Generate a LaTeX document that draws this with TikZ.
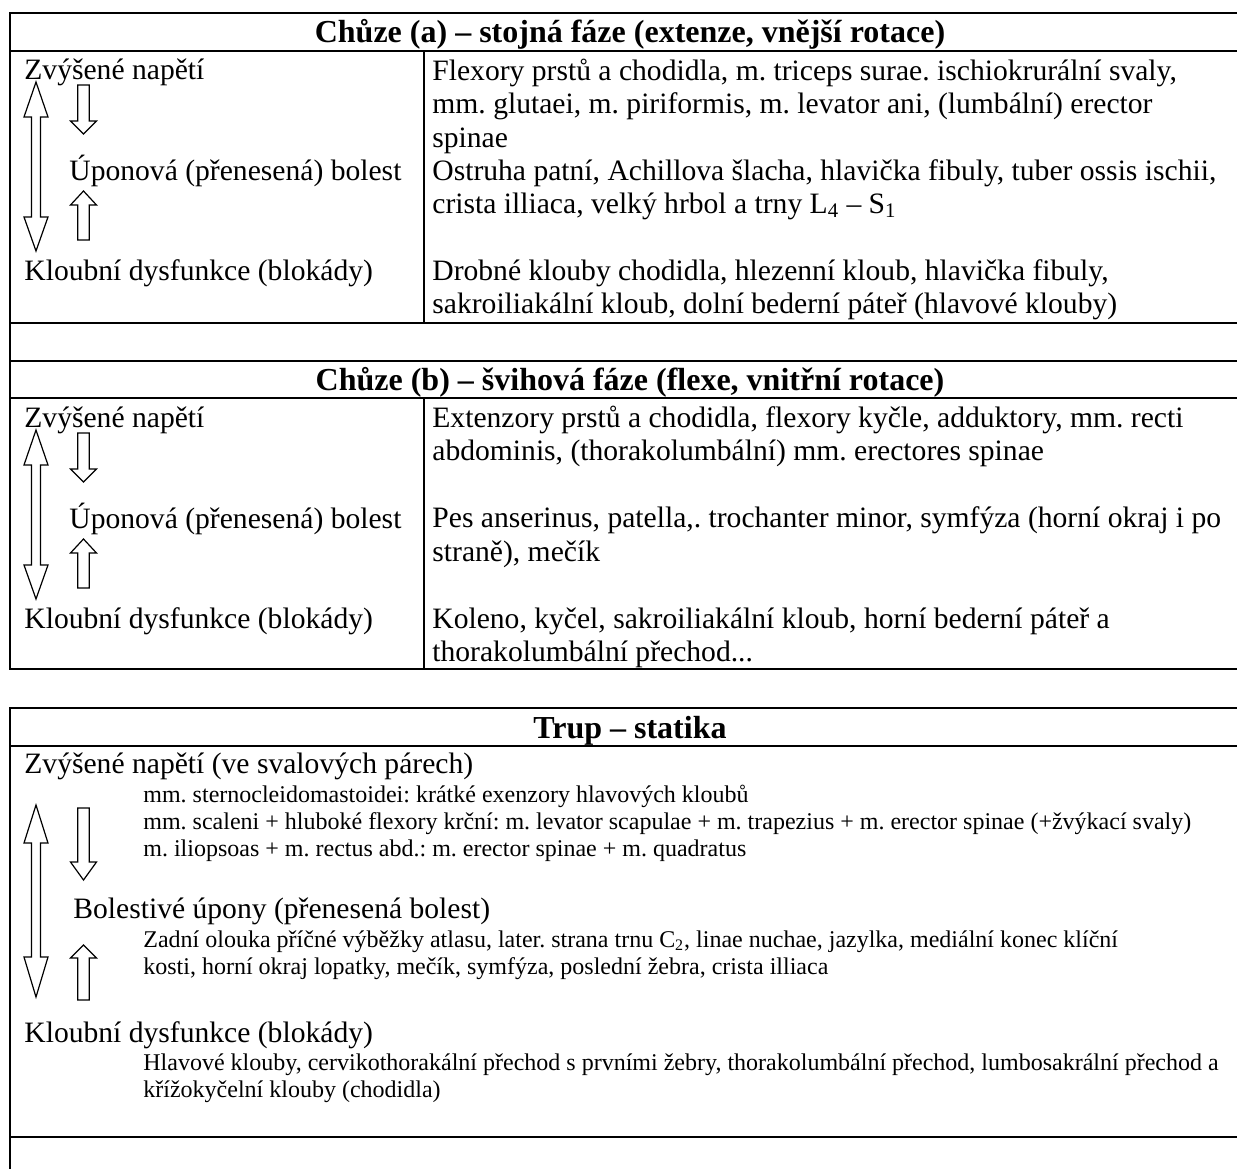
\documentclass[tikz,border=0pt]{standalone}
\usepackage{fontspec}
\setmainfont{Liberation Serif}
\frenchspacing
\newcommand\blockarrow[4]{% x, yend, yheadbase, ytip
  \draw[arr] (#1-5.8,#2) -- (#1+5.8,#2) -- (#1+5.8,#3) -- (#1+13,#3) -- (#1,#4)
    -- (#1-13,#3) -- (#1-5.8,#3) -- cycle;}
\newcommand\dblarrow[5]{% x, tip1, headbase1, headbase2, tip2
  \draw[arr] (#1,#2) -- (#1+12,#3) -- (#1+4.5,#3) -- (#1+4.5,#4) -- (#1+12,#4) -- (#1,#5)
    -- (#1-12,#4) -- (#1-4.5,#4) -- (#1-4.5,#3) -- (#1-12,#3) -- cycle;}
\begin{document}
\begin{tikzpicture}[x=0.5pt,y=-0.5pt,
  tx/.style={anchor=base west, inner sep=0, font=\frenchspacing\fontsize{14.8}{16}\selectfont},
  sm/.style={anchor=base west, inner sep=0, font=\frenchspacing\fontsize{12}{13}\selectfont},
  ttl/.style={anchor=base, inner sep=0, font=\frenchspacing\bfseries\fontsize{16}{18}\selectfont},
  hrule/.style={line width=1.3pt},
  vrule/.style={line width=1pt},
  arr/.style={line width=0.6pt, fill=white, line join=miter}]
\useasboundingbox (0,0) rectangle (1237,1168);

% ---------- Section 1 ----------
\draw[hrule] (1240,13) -- (10,13) -- (10,669) -- (1240,669);
\draw[hrule] (10,51) -- (1240,51);
\draw[hrule] (10,323) -- (1240,323);
\draw[hrule] (10,361) -- (1240,361);
\draw[hrule] (10,398) -- (1240,398);
\draw[vrule] (424,51) -- (424,323);
\draw[vrule] (424,398) -- (424,669);

\node[ttl] (t1) at (630,42) {Chůze (a) – stojná fáze (extenze, vnější rotace)};
\node[tx] (a1) at (24,79) {Zvýšené napětí};
\node[tx] (a2) at (69,180) {Úponová (přenesená) bolest};
\node[tx] (a3) at (24,280) {Kloubní dysfunkce (blokády)};
\node[tx] (r11) at (432,80) {Flexory prstů a chodidla, m. triceps surae. ischiokrurální svaly,};
\node[tx] (r12) at (432,113) {mm. glutaei, m. piriformis, m. levator ani, (lumbální) erector};
\node[tx] (r13) at (432,147) {spinae};
\node[tx] (r14) at (432,180) {Ostruha patní, Achillova šlacha, hlavička fibuly, tuber ossis ischii,};
\node[tx] (r15) at (432,213) {crista illiaca, velký hrbol a trny L\textsubscript{4} – S\textsubscript{1}};
\node[tx] (r16) at (432,280) {Drobné klouby chodidla, hlezenní kloub, hlavička fibuly,};
\node[tx] (r17) at (432,313) {sakroiliakální kloub, dolní bederní páteř (hlavové klouby)};
\dblarrow{36}{82}{117}{217}{251}
\blockarrow{83.5}{85}{121}{134}
\blockarrow{83.5}{240}{205}{191}

% ---------- Section 2 ----------
\node[ttl] (t2) at (630,390) {Chůze (b) – švihová fáze (flexe, vnitřní rotace)};
\node[tx] (b1) at (24,427) {Zvýšené napětí};
\node[tx] (b2) at (69,528) {Úponová (přenesená) bolest};
\node[tx] (b3) at (24,628) {Kloubní dysfunkce (blokády)};
\node[tx] (r21) at (432,427) {Extenzory prstů a chodidla, flexory kyčle, adduktory, mm. recti};
\node[tx] (r22) at (432,460) {abdominis, (thorakolumbální) mm. erectores spinae};
\node[tx] (r23) at (432,527) {Pes anserinus, patella,. trochanter minor, symfýza (horní okraj i po};
\node[tx] (r24) at (432,561) {straně), mečík};
\node[tx] (r25) at (432,628) {Koleno, kyčel, sakroiliakální kloub, horní bederní páteř a};
\node[tx] (r26) at (432,661) {thorakolumbální přechod...};
\dblarrow{36}{430}{465}{565}{599}
\blockarrow{83.5}{433}{469}{482}
\blockarrow{83.5}{588}{553}{539}

% ---------- Section 3 ----------
\draw[hrule] (1240,708) -- (10,708) -- (10,1175);
\draw[hrule] (10,746) -- (1240,746);
\draw[hrule] (10,1137) -- (1240,1137);
\node[ttl] (t3) at (630,738) {Trup – statika};
\node[tx] (c1) at (24,773) {Zvýšené napětí (ve svalových párech)};
\node[sm] (s1) at (143,802) {mm. sternocleidomastoidei: krátké exenzory hlavových kloubů};
\node[sm] (s2) at (143,829) {mm. scaleni + hluboké flexory krční: m. levator scapulae + m. trapezius + m. erector spinae (+žvýkací svaly)};
\node[sm] (s3) at (143,856) {m. iliopsoas + m. rectus abd.: m. erector spinae + m. quadratus};
\node[tx] (c2) at (73,918) {Bolestivé úpony (přenesená bolest)};
\node[sm] (s4) at (143,947) {Zadní olouka příčné výběžky atlasu, later. strana trnu C\textsubscript{2}, linae nuchae, jazylka, mediální konec klíční};
\node[sm] (s5) at (143,974) {kosti, horní okraj lopatky, mečík, symfýza, poslední žebra, crista illiaca};
\node[tx] (c3) at (24,1042) {Kloubní dysfunkce (blokády)};
\node[sm] (s6) at (143,1070) {Hlavové klouby, cervikothorakální přechod s prvními žebry, thorakolumbální přechod, lumbosakrální přechod a};
\node[sm] (s7) at (143,1097) {křížokyčelní klouby (chodidla)};
\dblarrow{36}{805}{843}{957}{997}
\blockarrow{83.5}{808}{862}{880}
\blockarrow{83.5}{1000}{958}{945}
\end{tikzpicture}
\end{document}
